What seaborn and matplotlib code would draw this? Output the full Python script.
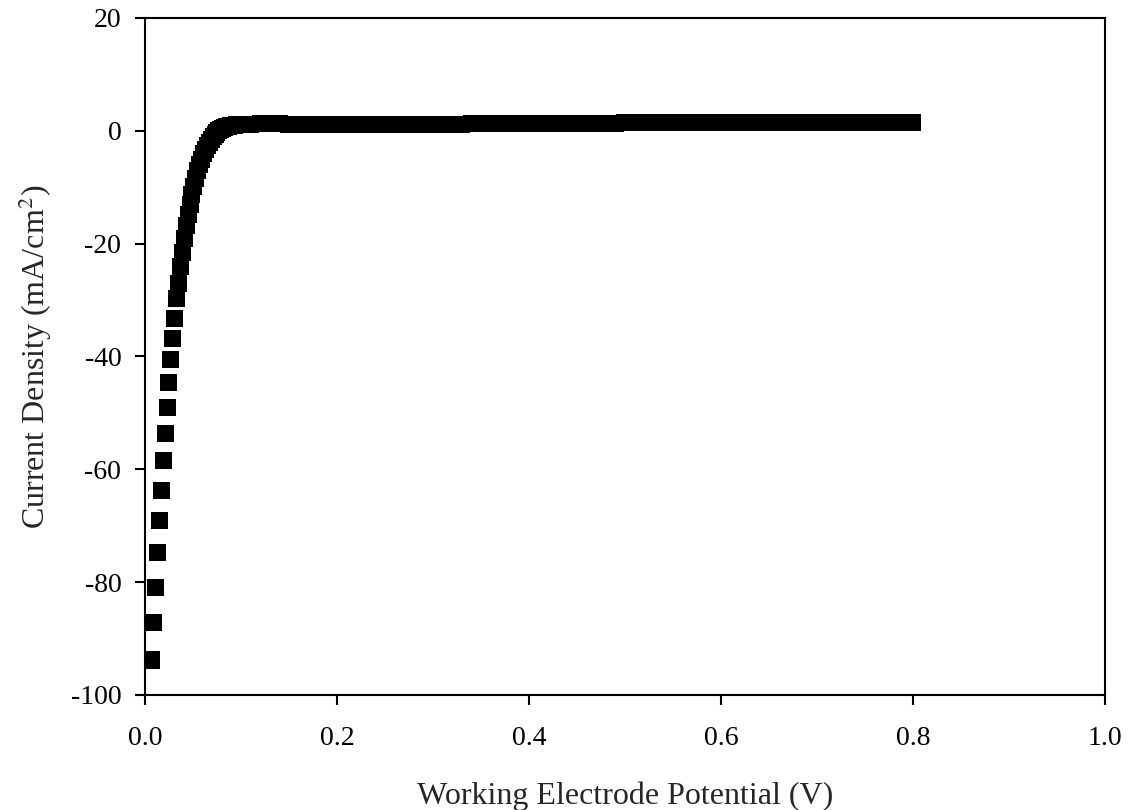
import matplotlib
matplotlib.use("Agg")

import pandas as pd
import matplotlib.pyplot as plt
import seaborn as sns

# steep part of the curve, ~2 mV steps
steep_v = [0.007, 0.009, 0.011, 0.013, 0.015, 0.017, 0.019, 0.021, 0.023, 0.025,
           0.027, 0.029, 0.031, 0.033, 0.035, 0.037, 0.039, 0.041, 0.043, 0.045,
           0.047, 0.049, 0.051, 0.053, 0.055, 0.057, 0.059, 0.061, 0.063, 0.065,
           0.067, 0.069, 0.071, 0.073, 0.075, 0.077, 0.079, 0.081, 0.083, 0.085,
           0.087, 0.089, 0.091, 0.093, 0.095, 0.097, 0.099]
steep_j = [-93.8, -87.1, -80.9, -74.7, -69.0, -63.7, -58.5, -53.6, -49.0, -44.6,
           -40.6, -36.9, -33.2, -29.8, -27.0, -24.0, -21.5, -19.0, -16.8, -14.8,
           -13.0, -11.3, -9.8, -8.4, -7.1, -6.0, -5.0, -4.1, -3.3, -2.6,
           -2.0, -1.5, -1.0, -0.6, -0.3, 0.0, 0.2, 0.4, 0.55, 0.7,
           0.8, 0.9, 0.95, 1.0, 1.05, 1.1, 1.1]

# flat plateau, ~10 mV steps
plateau_v = [0.10, 0.11, 0.12, 0.13, 0.14, 0.15, 0.16, 0.17, 0.18, 0.19,
             0.20, 0.21, 0.22, 0.23, 0.24, 0.25, 0.26, 0.27, 0.28, 0.29,
             0.30, 0.31, 0.32, 0.33, 0.34, 0.35, 0.36, 0.37, 0.38, 0.39,
             0.40, 0.41, 0.42, 0.43, 0.44, 0.45, 0.46, 0.47, 0.48, 0.49,
             0.50, 0.51, 0.52, 0.53, 0.54, 0.55, 0.56, 0.57, 0.58, 0.59,
             0.60, 0.61, 0.62, 0.63, 0.64, 0.65, 0.66, 0.67, 0.68, 0.69,
             0.70, 0.71, 0.72, 0.73, 0.74, 0.75, 0.76, 0.77, 0.78, 0.79,
             0.80]
plateau_j = [1.15, 1.2, 1.25, 1.25, 1.25, 1.2, 1.2, 1.2, 1.2, 1.2,
             1.2, 1.2, 1.2, 1.2, 1.2, 1.2, 1.15, 1.15, 1.15, 1.15,
             1.15, 1.15, 1.2, 1.2, 1.25, 1.25, 1.3, 1.3, 1.3, 1.3,
             1.3, 1.3, 1.3, 1.3, 1.3, 1.3, 1.3, 1.35, 1.35, 1.35,
             1.4, 1.4, 1.4, 1.45, 1.45, 1.45, 1.5, 1.5, 1.5, 1.55,
             1.55, 1.55, 1.55, 1.5, 1.5, 1.5, 1.5, 1.5, 1.5, 1.5,
             1.5, 1.5, 1.5, 1.5, 1.5, 1.5, 1.5, 1.5, 1.5, 1.5,
             1.5]

x_ticks = [0.0, 0.2, 0.4, 0.6, 0.8, 1.0]
y_ticks = [-100, -80, -60, -40, -20, 0, 20]

sns.set_style("ticks")
plt.rcParams["font.family"] = ["Liberation Serif", "DejaVu Serif"]
plt.rcParams["mathtext.fontset"] = "stix"
plt.rcParams["axes.unicode_minus"] = False

df = pd.DataFrame({
    "potential": steep_v + plateau_v,
    "current": steep_j + plateau_j,
})

fig = plt.figure(figsize=(11.28, 8.10), dpi=100)
ax = fig.add_axes([0.1285, 0.142, 0.851, 0.8358])

sns.scatterplot(data=df, x="potential", y="current", marker="s", s=150,
                color="black", edgecolor="none", linewidth=0, ax=ax)

ax.set_xlim(0, 1.0)
ax.set_ylim(-100, 20)
ax.set_xticks(x_ticks)
ax.set_xticklabels([f"{t:.1f}" for t in x_ticks])
ax.set_yticks(y_ticks)
ax.set_yticklabels([str(t) for t in y_ticks])

for side in ["top", "right", "bottom", "left"]:
    ax.spines[side].set_visible(True)
    ax.spines[side].set_color("black")
    ax.spines[side].set_linewidth(1.5)

ax.tick_params(axis="both", direction="out", length=7, width=1.5,
               labelsize=20, colors="black")
ax.tick_params(axis="x", pad=15)
ax.tick_params(axis="y", pad=10)
ax.set_xlabel("Working Electrode Potential (V)", fontsize=23, labelpad=22)
ax.set_ylabel(r"Current Density (mA/cm$^{2}$)", fontsize=23, labelpad=12)

fig.savefig("out.png", dpi=100)
